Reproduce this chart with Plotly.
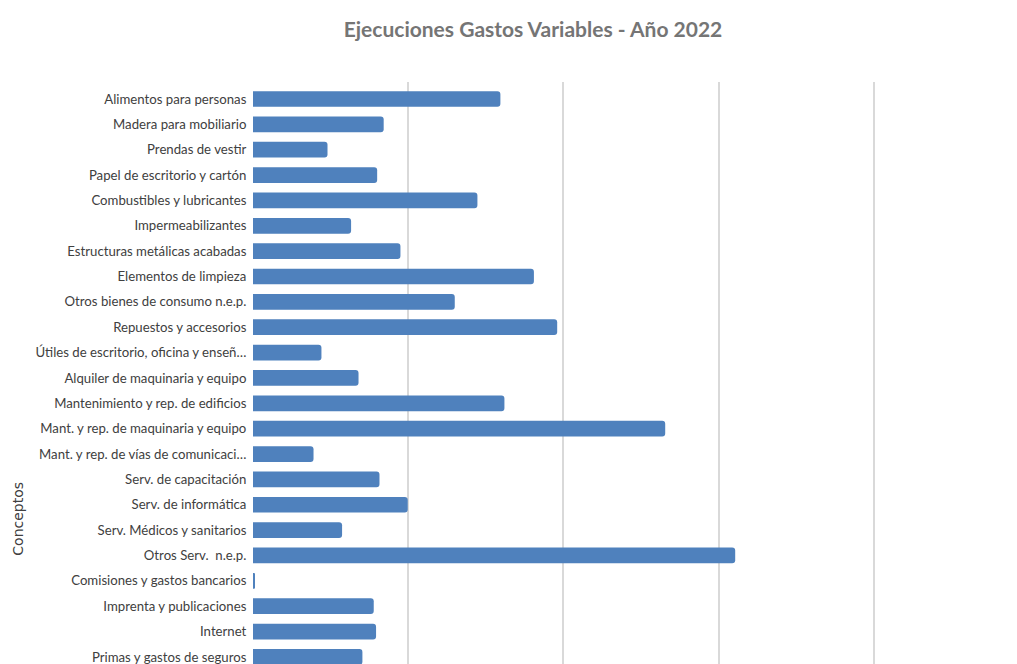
import plotly.graph_objects as go

categorias = [
    "Alimentos para personas",
    "Madera para mobiliario",
    "Prendas de vestir",
    "Papel de escritorio y cartón",
    "Combustibles y lubricantes",
    "Impermeabilizantes",
    "Estructuras metálicas acabadas",
    "Elementos de limpieza",
    "Otros bienes de consumo n.e.p.",
    "Repuestos y accesorios",
    "Útiles de escritorio, oficina y enseñ…",
    "Alquiler de maquinaria y equipo",
    "Mantenimiento y rep. de edificios",
    "Mant. y rep. de maquinaria y equipo",
    "Mant. y rep. de vías de comunicaci…",
    "Serv. de capacitación",
    "Serv. de informática",
    "Serv. Médicos y sanitarios",
    "Otros Serv.\u00a0 n.e.p.",
    "Comisiones y gastos bancarios",
    "Imprenta y publicaciones",
    "Internet",
    "Primas y gastos de seguros",
]

valores = [
    159.4, 84.2, 48.0, 80.0, 144.6, 63.2, 95.0, 181.0, 130.0, 196.0,
    44.1, 68.0, 162.0, 265.6, 39.0, 81.5, 99.7, 57.4, 310.7, 1.0,
    77.8, 79.3, 70.5,
]

titulo = "Ejecuciones Gastos Variables - Año 2022"
eje_y = "Conceptos"

OFF = 8  # page body margin
W, H = 1017 - OFF, 664 - OFF
left, top = 252.5 - OFF, 82 - OFF
unit_px = 155.3  # pixels per 100 units
plot_h = H - top

fig = go.Figure(
    go.Bar(
        x=valores,
        y=categorias,
        orientation="h",
        marker=dict(color="#4F81BD", cornerradius=3, line=dict(width=0)),
        width=0.62,
    )
)

font_fam = "Lato, sans-serif"

fig.update_layout(
    width=W,
    height=H,
    margin=dict(l=left, r=0, t=top, b=0),
    paper_bgcolor="white",
    plot_bgcolor="white",
    showlegend=False,
    title=dict(
        text="<b>" + titulo + "</b>",
        x=(533 - OFF) / W,
        xanchor="center",
        y=1 - (30 - OFF) / H,
        yanchor="middle",
        font=dict(family=font_fam, size=21, color="#757575"),
    ),
    xaxis=dict(
        range=[0, (W - left) / unit_px * 100],
        dtick=100,
        showgrid=True,
        gridcolor="#d9d9d9",
        gridwidth=1.5,
        zeroline=False,
        showticklabels=False,
        showline=False,
    ),
    yaxis=dict(
        categoryorder="array",
        categoryarray=categorias,
        range=[22.28, -0.67],
        showgrid=False,
        zeroline=False,
        showline=False,
        ticks="outside",
        ticklen=3,
        tickcolor="rgba(0,0,0,0)",
        tickfont=dict(family=font_fam, size=13.2, color="#404040"),
    ),
    annotations=[
        dict(
            text=eje_y,
            xref="paper",
            yref="paper",
            x=(17 - OFF - left) / (W - left),
            y=(664 - 519) / plot_h,
            textangle=-90,
            showarrow=False,
            xanchor="center",
            yanchor="middle",
            font=dict(family="DejaVu Sans", size=14, color="#404040"),
        )
    ],
)

fig.write_html("out.html")
